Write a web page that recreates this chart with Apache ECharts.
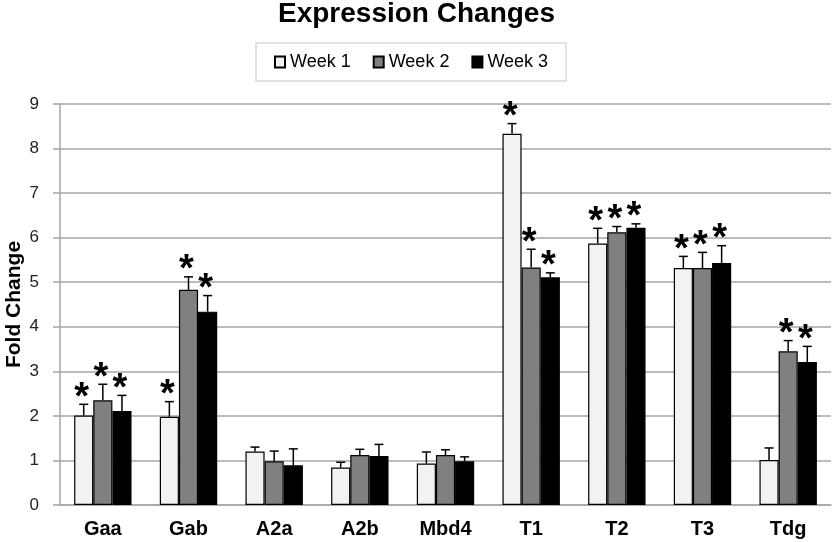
<!DOCTYPE html>
<html><head><meta charset="utf-8">
<script src="https://cdn.jsdelivr.net/npm/echarts@6/dist/echarts.min.js"></script>
<style>html,body{margin:0;padding:0;background:#fff}#c{width:833px;height:542px}</style>
</head><body><div id="c"></div>
<script>
const categories = ['Gaa', 'Gab', 'A2a', 'A2b', 'Mbd4', 'T1', 'T2', 'T3', 'Tdg'];
const seriesNames = ['Week 1', 'Week 2', 'Week 3'];
const week1 = [2.01, 1.98, 1.20, 0.84, 0.93, 8.33, 5.87, 5.32, 1.01];
const week2 = [2.35, 4.83, 0.98, 1.12, 1.12, 5.33, 6.12, 5.32, 3.45];
const week3 = [2.11, 4.34, 0.89, 1.10, 0.98, 5.11, 6.22, 5.43, 3.21];
const err1 = [0.25, 0.34, 0.10, 0.12, 0.26, 0.23, 0.34, 0.26, 0.27];
const err2 = [0.36, 0.29, 0.23, 0.13, 0.12, 0.41, 0.13, 0.35, 0.24];
const err3 = [0.35, 0.36, 0.37, 0.26, 0.10, 0.10, 0.09, 0.39, 0.35];
const sig1 = [1, 1, 0, 0, 0, 1, 1, 1, 0];
const sig2 = [1, 1, 0, 0, 0, 1, 1, 1, 1];
const sig3 = [1, 1, 0, 0, 0, 1, 1, 1, 1];
const colors = ['#f2f2f2', '#808080', '#000000'];

const vals = [week1, week2, week3];
const errs = [err1, err2, err3];
const sigs = [sig1, sig2, sig3];
const FONT = 'Liberation Sans, Arial, sans-serif';
const CAT_GAP = 0.33;

const chart = echarts.init(document.getElementById('c'));

const barSeries = seriesNames.map((name, s) => ({
  name: name,
  type: 'bar',
  data: vals[s],
  barGap: '0%',
  barCategoryGap: (CAT_GAP * 100) + '%',
  itemStyle: { color: colors[s], borderColor: '#000', borderWidth: 1.2 },
  emphasis: { disabled: true },
  z: 2
}));

const errSeries = seriesNames.map((name, s) => ({
  name: name + ' err',
  type: 'custom',
  z: 5,
  silent: true,
  data: categories.map((c, i) => [i, vals[s][i], errs[s][i], sigs[s][i]]),
  encode: { x: 0, y: 1 },
  renderItem: function (params, api) {
    const i = api.value(0);
    const v = api.value(1);
    const e = api.value(2);
    const sig = api.value(3);
    const catW = api.size([1, 0])[0];
    const bw = catW * (1 - CAT_GAP) / 3;
    const off = (s - 1) * bw;
    const p0 = api.coord([i, v]);
    const p1 = api.coord([i, v + e]);
    const x = p0[0] + off;
    const cap = 4.5;
    const children = [
      { type: 'line', shape: { x1: x, y1: p0[1], x2: x, y2: p1[1] }, style: { stroke: '#000', lineWidth: 1.5 } },
      { type: 'line', shape: { x1: x - cap, y1: p1[1], x2: x + cap, y2: p1[1] }, style: { stroke: '#000', lineWidth: 1.5 } }
    ];
    if (sig) {
      children.push({
        type: 'text',
        style: {
          text: '*', x: x - 2, y: p1[1] - 6,
          align: 'center', verticalAlign: 'middle',
          font: 'bold 38px ' + FONT, fill: '#000'
        }
      });
    }
    return { type: 'group', children: children };
  }
}));

chart.setOption({
  animation: false,
  backgroundColor: '#fff',
  title: {
    text: 'Expression Changes', left: 'center', top: 0, padding: 0,
    textStyle: { fontFamily: FONT, fontSize: 28, fontWeight: 'bold', color: '#000' }
  },
  legend: {
    data: seriesNames,
    left: 256, top: 43,
    padding: [10, 18],
    itemGap: 22, itemWidth: 10, itemHeight: 11,
    icon: 'rect',
    borderColor: '#d9d9d9', borderWidth: 1.5, backgroundColor: '#fff',
    textStyle: { fontFamily: FONT, fontSize: 18, color: '#000' },
    selectedMode: false
  },
  grid: { left: 60, right: 2, top: 104, bottom: 37, containLabel: false, outerBoundsMode: 'none' },
  xAxis: {
    type: 'category',
    data: categories,
    axisLine: { lineStyle: { color: '#a6a6a6', width: 1.5 } },
    axisTick: { show: false },
    axisLabel: { fontFamily: FONT, fontSize: 20, fontWeight: 'bold', color: '#000', margin: 14 }
  },
  yAxis: {
    type: 'value', min: 0, max: 9, interval: 1,
    name: 'Fold Change', nameLocation: 'middle', nameGap: 35, nameRotate: 90,
    nameMoveOverlap: false,
    nameTextStyle: { fontFamily: FONT, fontSize: 21, fontWeight: 'bold', color: '#000' },
    axisLine: { show: true, lineStyle: { color: '#a6a6a6', width: 1.5 } },
    axisTick: { show: true, length: 7, lineStyle: { color: '#a6a6a6', width: 1.5 } },
    axisLabel: { fontFamily: FONT, fontSize: 17, color: '#222', margin: 21 },
    splitLine: { lineStyle: { color: '#a6a6a6', width: 1.5 } }
  },
  series: barSeries.concat(errSeries)
});
</script></body></html>
